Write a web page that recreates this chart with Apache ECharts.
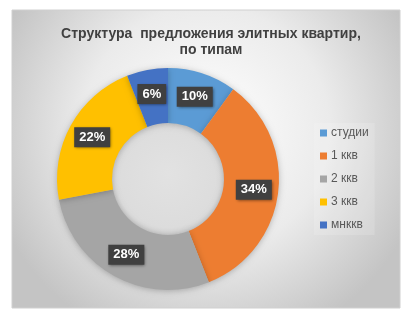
<!DOCTYPE html>
<html>
<head>
<meta charset="utf-8">
<script src="https://cdn.jsdelivr.net/npm/echarts@6/dist/echarts.min.js"></script>
<style>
  html, body { margin: 0; padding: 0; background: #fff; }
  #chart { width: 410px; height: 322px; }
</style>
</head>
<body>
<div id="chart"></div>
<script>
// Apartment types and their share of the offer, percent
const categories = ['студии', '1 ккв', '2 ккв', '3 ккв', 'мнккв'];
const shares = [10, 34, 28, 22, 6];
const colors = ['#5B9BD5', '#ED7D31', '#A5A5A5', '#FFC000', '#4472C4'];
const titleText = 'Структура  предложения элитных квартир,\nпо типам';

const center = [168, 179];
const radii = [56, 111];

const chart = echarts.init(document.getElementById('chart'), null, { renderer: 'canvas' });

chart.setOption({
  animation: false,
  color: colors,
  graphic: {
    elements: [{
      // chart panel with a soft light-to-grey backdrop
      type: 'rect',
      z: 0,
      silent: true,
      shape: { x: 12, y: 10, width: 388, height: 298 },
      style: {
        fill: new echarts.graphic.RadialGradient(0.5, 0.4, 0.75, [
          { offset: 0, color: '#ffffff' },
          { offset: 0.55, color: '#ebebeb' },
          { offset: 1, color: '#c4c4c4' }
        ]),
        stroke: '#d0d0d0',
        lineWidth: 1
      }
    }, {
      // shaded hole of the doughnut
      type: 'circle',
      z: 1,
      silent: true,
      shape: { cx: center[0], cy: center[1], r: radii[0] + 1 },
      style: {
        fill: new echarts.graphic.RadialGradient(0.5, 0.45, 0.6, [
          { offset: 0, color: '#e2e2e2' },
          { offset: 0.8, color: '#dcdcdc' },
          { offset: 1, color: '#c8c8c8' }
        ])
      }
    }]
  },
  title: {
    text: titleText,
    left: 206,
    textAlign: 'center',
    top: 21,
    textStyle: {
      fontFamily: 'Liberation Sans',
      fontSize: 14,
      fontWeight: 'bold',
      color: '#404040',
      lineHeight: 16
    }
  },
  legend: {
    orient: 'vertical',
    left: 314,
    top: 123,
    itemWidth: 7,
    itemHeight: 7,
    itemGap: 11,
    icon: 'rect',
    padding: [4, 6],
    backgroundColor: 'rgba(255,255,255,0.15)',
    textStyle: {
      fontFamily: 'Liberation Sans',
      fontSize: 12,
      color: '#595959',
      padding: [0, 0, 0, -1]
    },
    data: categories
  },
  series: [{
    type: 'pie',
    z: 3,
    center: center,
    radius: radii,
    startAngle: 90,
    clockwise: true,
    avoidLabelOverlap: false,
    itemStyle: {
      shadowBlur: 6,
      shadowColor: 'rgba(0,0,0,0.25)',
      shadowOffsetY: 1
    },
    label: {
      show: true,
      position: 'inside',
      formatter: '{c}%',
      fontFamily: 'Liberation Sans',
      fontSize: 13,
      fontWeight: 'bold',
      color: '#ffffff',
      backgroundColor: '#404040',
      padding: [4, 5, 3, 5],
      shadowBlur: 3,
      shadowColor: 'rgba(0,0,0,0.5)',
      shadowOffsetX: 1,
      shadowOffsetY: 1
    },
    labelLine: { show: false },
    emphasis: { disabled: true },
    data: categories.map((name, i) => ({ name: name, value: shares[i] }))
  }]
});
</script>
</body>
</html>
